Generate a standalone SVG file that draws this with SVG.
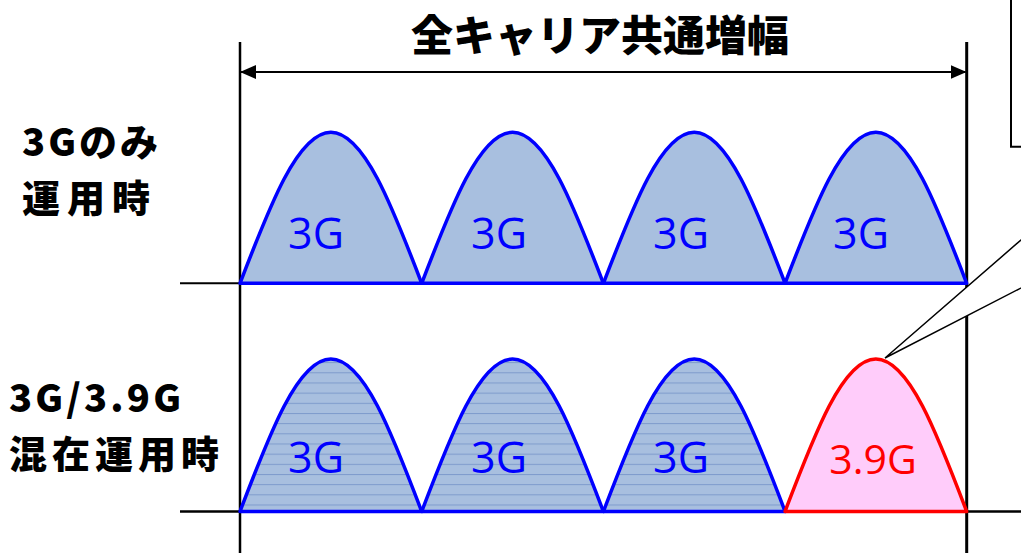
<svg xmlns="http://www.w3.org/2000/svg" width="1021" height="553" viewBox="0 0 1021 553">
<style>
.lbl{font-family:"Noto Sans CJK JP","Noto Sans",sans-serif;font-weight:900;fill:#000;}
.t3g{font-family:"Open Sans","Noto Sans",sans-serif;font-size:43px;fill:#0000FF;text-anchor:middle;}
.t39{font-family:"Open Sans","Noto Sans",sans-serif;font-size:41px;fill:#FF0000;text-anchor:middle;}
.ln{stroke:#000;fill:none;}
.blue{stroke:#0000FF;stroke-width:3.5;stroke-linejoin:round;}
.red{stroke:#FF0000;stroke-width:3.5;stroke-linejoin:round;}
</style>
<defs>
<pattern id="hl" patternUnits="userSpaceOnUse" x="0" y="369.3" width="20" height="10.17">
<rect width="20" height="10.17" fill="#A8BFDF"/>
<rect y="0" width="20" height="1" fill="#7E9BCC"/>
</pattern>
<path id="b1" d="M0,0 C29.63,-77.36 57.97,-151 90.85,-151 C123.73,-151 152.07,-77.36 181.7,0 Z"/>
<path id="b2" d="M0,0 C29.63,-78.1 57.97,-152.5 90.85,-152.5 C123.73,-152.5 152.07,-78.1 181.7,0 Z"/>
<marker id="ah" viewBox="0 0 16 14" refX="15" refY="7" markerWidth="16" markerHeight="14" markerUnits="userSpaceOnUse" orient="auto-start-reverse">
<path d="M0,0 L16,7 L0,14 Z" fill="#000"/>
</marker>
</defs>
<g id="title">
<text class="lbl" x="411" y="51" font-size="42">全キャリア共通増幅</text>
</g>
<g id="label-3g-only">
<text class="lbl" x="22" y="156" font-size="38" textLength="136" lengthAdjust="spacing">3Gのみ</text>
<text class="lbl" x="22" y="212" font-size="38" textLength="128" lengthAdjust="spacing">運用時</text>
</g>
<g id="label-mixed">
<text class="lbl" x="9" y="412" font-size="38" textLength="172" lengthAdjust="spacing">3G/3.9G</text>
<text class="lbl" x="9" y="468" font-size="38" textLength="210" lengthAdjust="spacing">混在運用時</text>
</g>
<g id="connectors">
<line class="ln" x1="240" y1="42" x2="240" y2="553" stroke-width="2.5"/>
<line class="ln" x1="966.7" y1="42" x2="966.7" y2="553" stroke-width="3"/>
<line class="ln" x1="241" y1="72" x2="965.5" y2="72" stroke-width="2" marker-start="url(#ah)" marker-end="url(#ah)"/>
<line class="ln" x1="180" y1="283.3" x2="966.7" y2="283.3" stroke-width="2"/>
<line class="ln" x1="180" y1="511.5" x2="1021" y2="511.5" stroke-width="2.5"/>
</g>
<g id="top-3g-1"><use href="#b1" x="240" y="283.3" fill="#A8BFDF" class="blue"/><text class="t3g" x="316" y="249">3G</text></g>
<g id="top-3g-2"><use href="#b1" x="421.7" y="283.3" fill="#A8BFDF" class="blue"/><text class="t3g" x="499" y="249">3G</text></g>
<g id="top-3g-3"><use href="#b1" x="603.4" y="283.3" fill="#A8BFDF" class="blue"/><text class="t3g" x="681" y="249">3G</text></g>
<g id="top-3g-4"><use href="#b1" x="785" y="283.3" fill="#A8BFDF" class="blue"/><text class="t3g" x="861" y="249">3G</text></g>
<g id="mix-3g-1"><use href="#b2" x="240" y="511.5" fill="url(#hl)" class="blue"/><text class="t3g" x="316" y="473">3G</text></g>
<g id="mix-3g-2"><use href="#b2" x="421.7" y="511.5" fill="url(#hl)" class="blue"/><text class="t3g" x="499" y="473">3G</text></g>
<g id="mix-3g-3"><use href="#b2" x="603.4" y="511.5" fill="url(#hl)" class="blue"/><text class="t3g" x="681" y="473">3G</text></g>
<g id="mix-39g"><use href="#b2" x="785" y="511.5" fill="#FFCCFA" class="red"/><text class="t39" x="873" y="474">3.9G</text></g>
<g id="callout">
<path d="M1011,-5 V146.7 H1040 V-5 Z" fill="#fff" stroke="#000" stroke-width="2"/>
<path d="M1040,223.5 L885,358 L1040,278.2" fill="#fff" stroke="#000" stroke-width="1.5" stroke-linejoin="miter"/>
</g>
</svg>
